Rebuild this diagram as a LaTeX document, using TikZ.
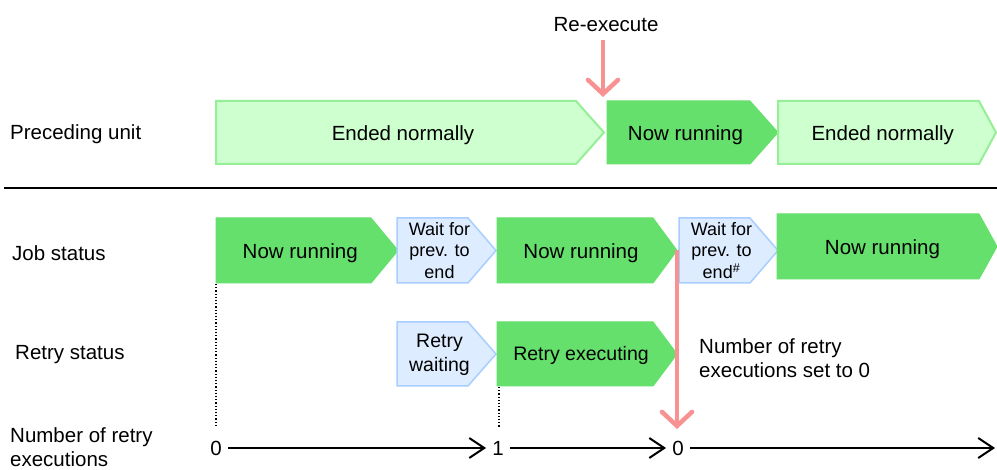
\documentclass[tikz,border=0pt]{standalone}
\usepackage{fontspec}
\setmainfont{Liberation Sans}
\usetikzlibrary{arrows.meta}
\definecolor{dkgreen}{RGB}{102,224,108}
\definecolor{ltgreen}{RGB}{206,255,206}
\definecolor{ltgreenb}{RGB}{150,238,150}
\definecolor{ltblue}{RGB}{221,236,255}
\definecolor{ltblueb}{RGB}{168,206,255}
\definecolor{pinkred}{RGB}{248,146,146}
\newcommand\chev[9]{%
  \draw[#7] (#2,#5) -- (#3,#5) -- (#4,{(#5+#6)/2}) -- (#3,#6) -- (#2,#6) -- cycle;
  \node[#9] (#1) at ({(2*#2+#3+#4)/4},{(#5+#6)/2}) {#8};
}
\tikzset{
  dkbox/.style={fill=dkgreen,draw=dkgreen,line width=1pt},
  ltgbox/.style={fill=ltgreen,draw=ltgreenb,line width=2pt},
  ltbbox/.style={fill=ltblue,draw=ltblueb,line width=1.5pt},
  bigtxt/.style={font=\fontsize{20.5}{24}\selectfont,inner sep=0pt,align=center,yshift=-2.5pt},
  midtxt/.style={font=\fontsize{19.5}{24}\selectfont,inner sep=0pt,align=center,yshift=-1pt},
  smalltxt/.style={font=\fontsize{18}{21.5}\selectfont,inner sep=0pt,align=center},
  rowlabel/.style={font=\fontsize{20.5}{24}\selectfont,inner sep=0pt,anchor=west,align=left},
  axisnum/.style={font=\fontsize{20.5}{24}\selectfont,inner sep=6pt},
  axisarrow/.style={line width=2pt,-{Straight Barb[length=15pt,width=20pt,line width=2pt]}},
  pinkarrow/.style={draw=pinkred,line width=4.5pt,-{Straight Barb[length=14pt,width=30pt,line width=4.5pt,line cap=round]}},
  guide/.style={dotted,line width=1.2pt},
}
\begin{document}
\begin{tikzpicture}[x=1pt,y=-1pt]
\useasboundingbox (0,0) rectangle (997,470);

% row labels
\node[rowlabel] (lpre) at (10,134) {Preceding unit};
\node[rowlabel] (ljob) at (12,253) {Job status};
\node[rowlabel] (lret) at (15,355) {Retry status};
\node[rowlabel] (lnum) at (10,447) {Number of retry\\executions};

% separator
\coordinate (sepL) at (4,188);
\coordinate (sepR) at (997,188);
\draw[line width=2pt] (sepL) -- (sepR);

% preceding unit row
\chev{pu1}{216}{576}{604}{101}{164}{ltgbox}{Ended normally}{bigtxt}
\chev{pu2}{607}{750}{778}{101}{164}{dkbox}{Now running}{bigtxt}
\chev{pu3}{778}{979}{996}{101}{164}{ltgbox}{Ended normally}{bigtxt}

% re-execute
\node[bigtxt] (reexec) at (606,22) {Re-execute};
\coordinate (reA) at (603,40);
\coordinate (reB) at (603,97);
\draw[pinkarrow] (reA) -- (reB);

% job status row
\chev{js1}{216}{371}{398}{218}{283}{dkbox}{Now running}{bigtxt}
\chev{js2}{397}{468}{496}{218}{283}{ltbbox}{Wait for\\prev. to\\end}{smalltxt}
\chev{js3}{497}{653}{677}{218}{283}{dkbox}{Now running}{bigtxt}
\chev{js4}{679}{750}{778}{218}{283}{ltbbox}{Wait for\\prev. to\\end\textsuperscript{\#}}{smalltxt}
\chev{js5}{777}{979}{997}{214}{279}{dkbox}{Now running}{bigtxt}

% retry status row
\chev{rs1}{397}{468}{496}{322}{386}{ltbbox}{Retry\\waiting}{midtxt}
\chev{rs2}{497}{653}{677}{322}{386}{dkbox}{Retry executing}{midtxt}

\node[rowlabel,anchor=west] (resetnote) at (699,358) {Number of retry\\executions set to 0};

% axis
\node[axisnum] (n0) at (216,448) {0};
\node[axisnum] (n1) at (498,448) {1};
\node[axisnum] (n2) at (678,448) {0};
\coordinate (nend) at (995,448);
\draw[axisarrow] (n0) -- (n1);
\draw[axisarrow] (n1) -- (n2);
\draw[axisarrow] (n2) -- (nend);

% dotted guides
\coordinate (g1a) at (216,284);
\coordinate (g1b) at (216,425);
\draw[guide] (g1a) -- (g1b);
\coordinate (g2a) at (499,387);
\coordinate (g2b) at (499,427);
\draw[guide] (g2a) -- (g2b);

% reset arrow
\coordinate (rsA) at (677,250);
\coordinate (rsB) at (677,429);
\draw[pinkarrow] (rsA) -- (rsB);
\end{tikzpicture}
\end{document}
